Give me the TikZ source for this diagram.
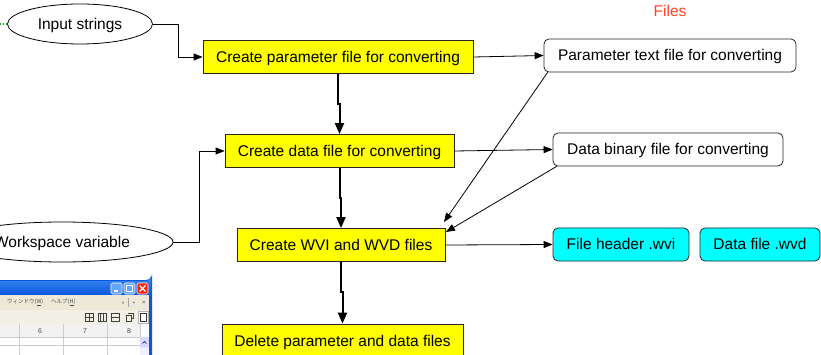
\documentclass[tikz,border=0pt]{standalone}
\usepackage{fontspec}
\setmainfont{Liberation Sans}
\newfontfamily\jpfont{Noto Sans CJK JP}
\usetikzlibrary{shapes.geometric,arrows.meta}
\definecolor{filesred}{HTML}{FF4422}
\definecolor{boxcyan}{HTML}{00FFFF}
\definecolor{boxyellow}{HTML}{FFFF00}
\definecolor{xpgrey}{HTML}{ECE9D8}
\definecolor{xpblueA}{HTML}{3D8EF5}
\definecolor{xpblueB}{HTML}{0A56DC}
\begin{document}
\begin{tikzpicture}[x=1pt,y=-1pt,
  font=\fontsize{15.5}{18}\selectfont,
  ctext/.style={text height=11pt, text depth=0pt},
  proc/.style={ctext, draw=black!85, fill=boxyellow, minimum height=33, inner sep=0pt, line width=0.8},
  fileb/.style={ctext, draw=black!85, rounded corners=5, fill=white, minimum height=33, inner sep=0pt, line width=0.8},
  cyanb/.style={fileb, fill=boxcyan},
  term/.style={ctext, ellipse, draw, minimum height=40, inner sep=0pt, line width=0.8},
  arr/.style={-{Triangle[length=9,width=7]}, line width=0.8},
  thickarr/.style={-{Triangle[length=11,width=9]}, line width=2},
  tiny8/.style={font=\fontsize{7}{8}\selectfont, text=black!70, inner sep=0pt},
  jpmenu/.style={font=\jpfont\fontsize{5.5}{6}\selectfont, text=black!70, inner sep=0pt}
]
\useasboundingbox (0,0) rectangle (821,355);
\clip (0,0) rectangle (821,355);

% nodes
\node[term, minimum width=145] (in) at (80,24) {Input strings};
\node[term, minimum width=222] (ws) at (62,242) {Workspace variable};
\node[proc, minimum width=270] (b1) at (338,57) {Create parameter file for converting};
\node[proc, minimum width=229] (b2) at (339.5,151) {Create data file for converting};
\node[proc, minimum width=208] (b3) at (341,245) {Create WVI and WVD files};
\node[proc, minimum width=241] (b4) at (342.5,340.5) {Delete parameter and data files};
\node[fileb, minimum width=252] (pt) at (670,55.5) {Parameter text file for converting};
\node[fileb, minimum width=230] (db) at (668,149.5) {Data binary file for converting};
\node[cyanb, minimum width=136] (fh) at (621,244.5) {File header .wvi};
\node[cyanb, minimum width=120] (df) at (760,244.5) {Data file .wvd};
\node[ctext, text=filesred, inner sep=0pt] (files) at (670,11) {Files};

\coordinate (t1) at (444,222);
\coordinate (t2) at (446,232);
\coordinate (g0) at (0,24);

% connectors
\draw[green!75!black, dotted, line width=1.2] (g0) -- (in.west);
\draw[arr] (in.east) -- ++(25,0) |- (b1.west);
\draw[arr] (ws.east) -- ++(26,0) |- (b2.west);
\draw[arr] (b1.east) -- (pt.west);
\draw[arr] (b2.east) -- (db.west);
\draw[arr] (b3.east) -- (fh.west);
\draw[thickarr] (b1.south) -- ++(0,30) -| (b2.north);
\draw[thickarr] (b2.south) -- ++(0,30) -| (b3.north);
\draw[thickarr] (b3.south) -- ++(0,30) -| (b4.north);
\draw[arr] ([xshift=4]pt.south west) -- (t1);
\draw[arr] ([xshift=4]db.south west) -- (t2);

% screenshot of application window (bottom left)
\fill[xpblueB] (0,280) -- (146,280) arc[start angle=90,end angle=0,radius=6] -- (152,355) -- (0,355) -- cycle;
\shade[top color=xpblueA, bottom color=xpblueB] (0,281) -- (146,281) arc[start angle=90,end angle=0,radius=5] -- (151,295) -- (0,295) -- cycle;
\fill[xpgrey] (0,295) rectangle (149,310);
\fill[xpgrey!70!white] (0,310) rectangle (149,324);
\fill[white] (0,324) rectangle (149,355);
% title buttons
\filldraw[fill=xpblueA!80!white, draw=white, line width=0.6, rounded corners=1.5] (111,283) rectangle (122,294);
\draw[white, line width=1.2] (114,291) -- (118,291);
\filldraw[fill=xpblueA!80!white, draw=white, line width=0.6, rounded corners=1.5] (124,283) rectangle (135,294);
\draw[white, line width=0.8] (126.5,285.5) rectangle (132.5,291.5);
\filldraw[fill=red!75!orange, draw=white, line width=0.6, rounded corners=1.5] (137,283) rectangle (148,294);
\draw[white, line width=1.2] (139.5,285.5) -- (145.5,291.5) (145.5,285.5) -- (139.5,291.5);
% menu
\node[jpmenu, anchor=west] (m1) at (7,302.5) {ウィンドウ(\underline{W})};
\node[jpmenu, anchor=west] (m2) at (51,302.5) {ヘルプ(\underline{H})};
\node[tiny8] (m3) at (123,303) {\fontsize{5}{6}\selectfont »};
\draw[black!35] (128,298) -- (128,307);
\node[tiny8] (m4) at (134,303) {\fontsize{5}{6}\selectfont ▪};
\node[tiny8] (m5) at (144,303) {\fontsize{6}{6}\selectfont ×};
% toolbar icons
\draw[black!75, line width=0.6] (85,313) rectangle (93,321) (89,313) -- (89,321) (85,317) -- (93,317);
\draw[black!75, line width=0.6] (98,313) rectangle (106,321) (100.7,313) -- (100.7,321) (103.3,313) -- (103.3,321);
\draw[black!75, line width=0.6] (111,313) rectangle (119,321) (111,317) -- (119,317);
\draw[black!75, line width=0.6] (126,315.5) rectangle (131.5,321) (128,313) -- (133.5,313) -- (133.5,318.5) -- (131.5,318.5);
\filldraw[fill=white, draw=black!30, line width=0.5] (138,311) rectangle (148,323);
\draw[black!80, line width=0.7] (140,313) rectangle (146,321);
% column header
\fill[black!5] (0,324) rectangle (140,337);
\draw[black!20, line width=0.5] (0,337) -- (140,337) (0,345) -- (140,345);
\foreach \cx in {19,63,107,140} {\draw[black!20, line width=0.5] (\cx,324) -- (\cx,355);}
\node[tiny8] (c6) at (40,331) {6};
\node[tiny8] (c7) at (85,331) {7};
\node[tiny8] (c8) at (129,331) {8};
% scrollbar
\fill[blue!6] (140,337) rectangle (149,355);
\filldraw[fill=blue!15, draw=blue!25, line width=0.4, rounded corners=1] (140.5,337.5) rectangle (148.5,347);
\draw[blue!50!black, line width=0.6] (142.5,343.5) -- (144.5,341.5) -- (146.5,343.5);
\end{tikzpicture}
\end{document}
